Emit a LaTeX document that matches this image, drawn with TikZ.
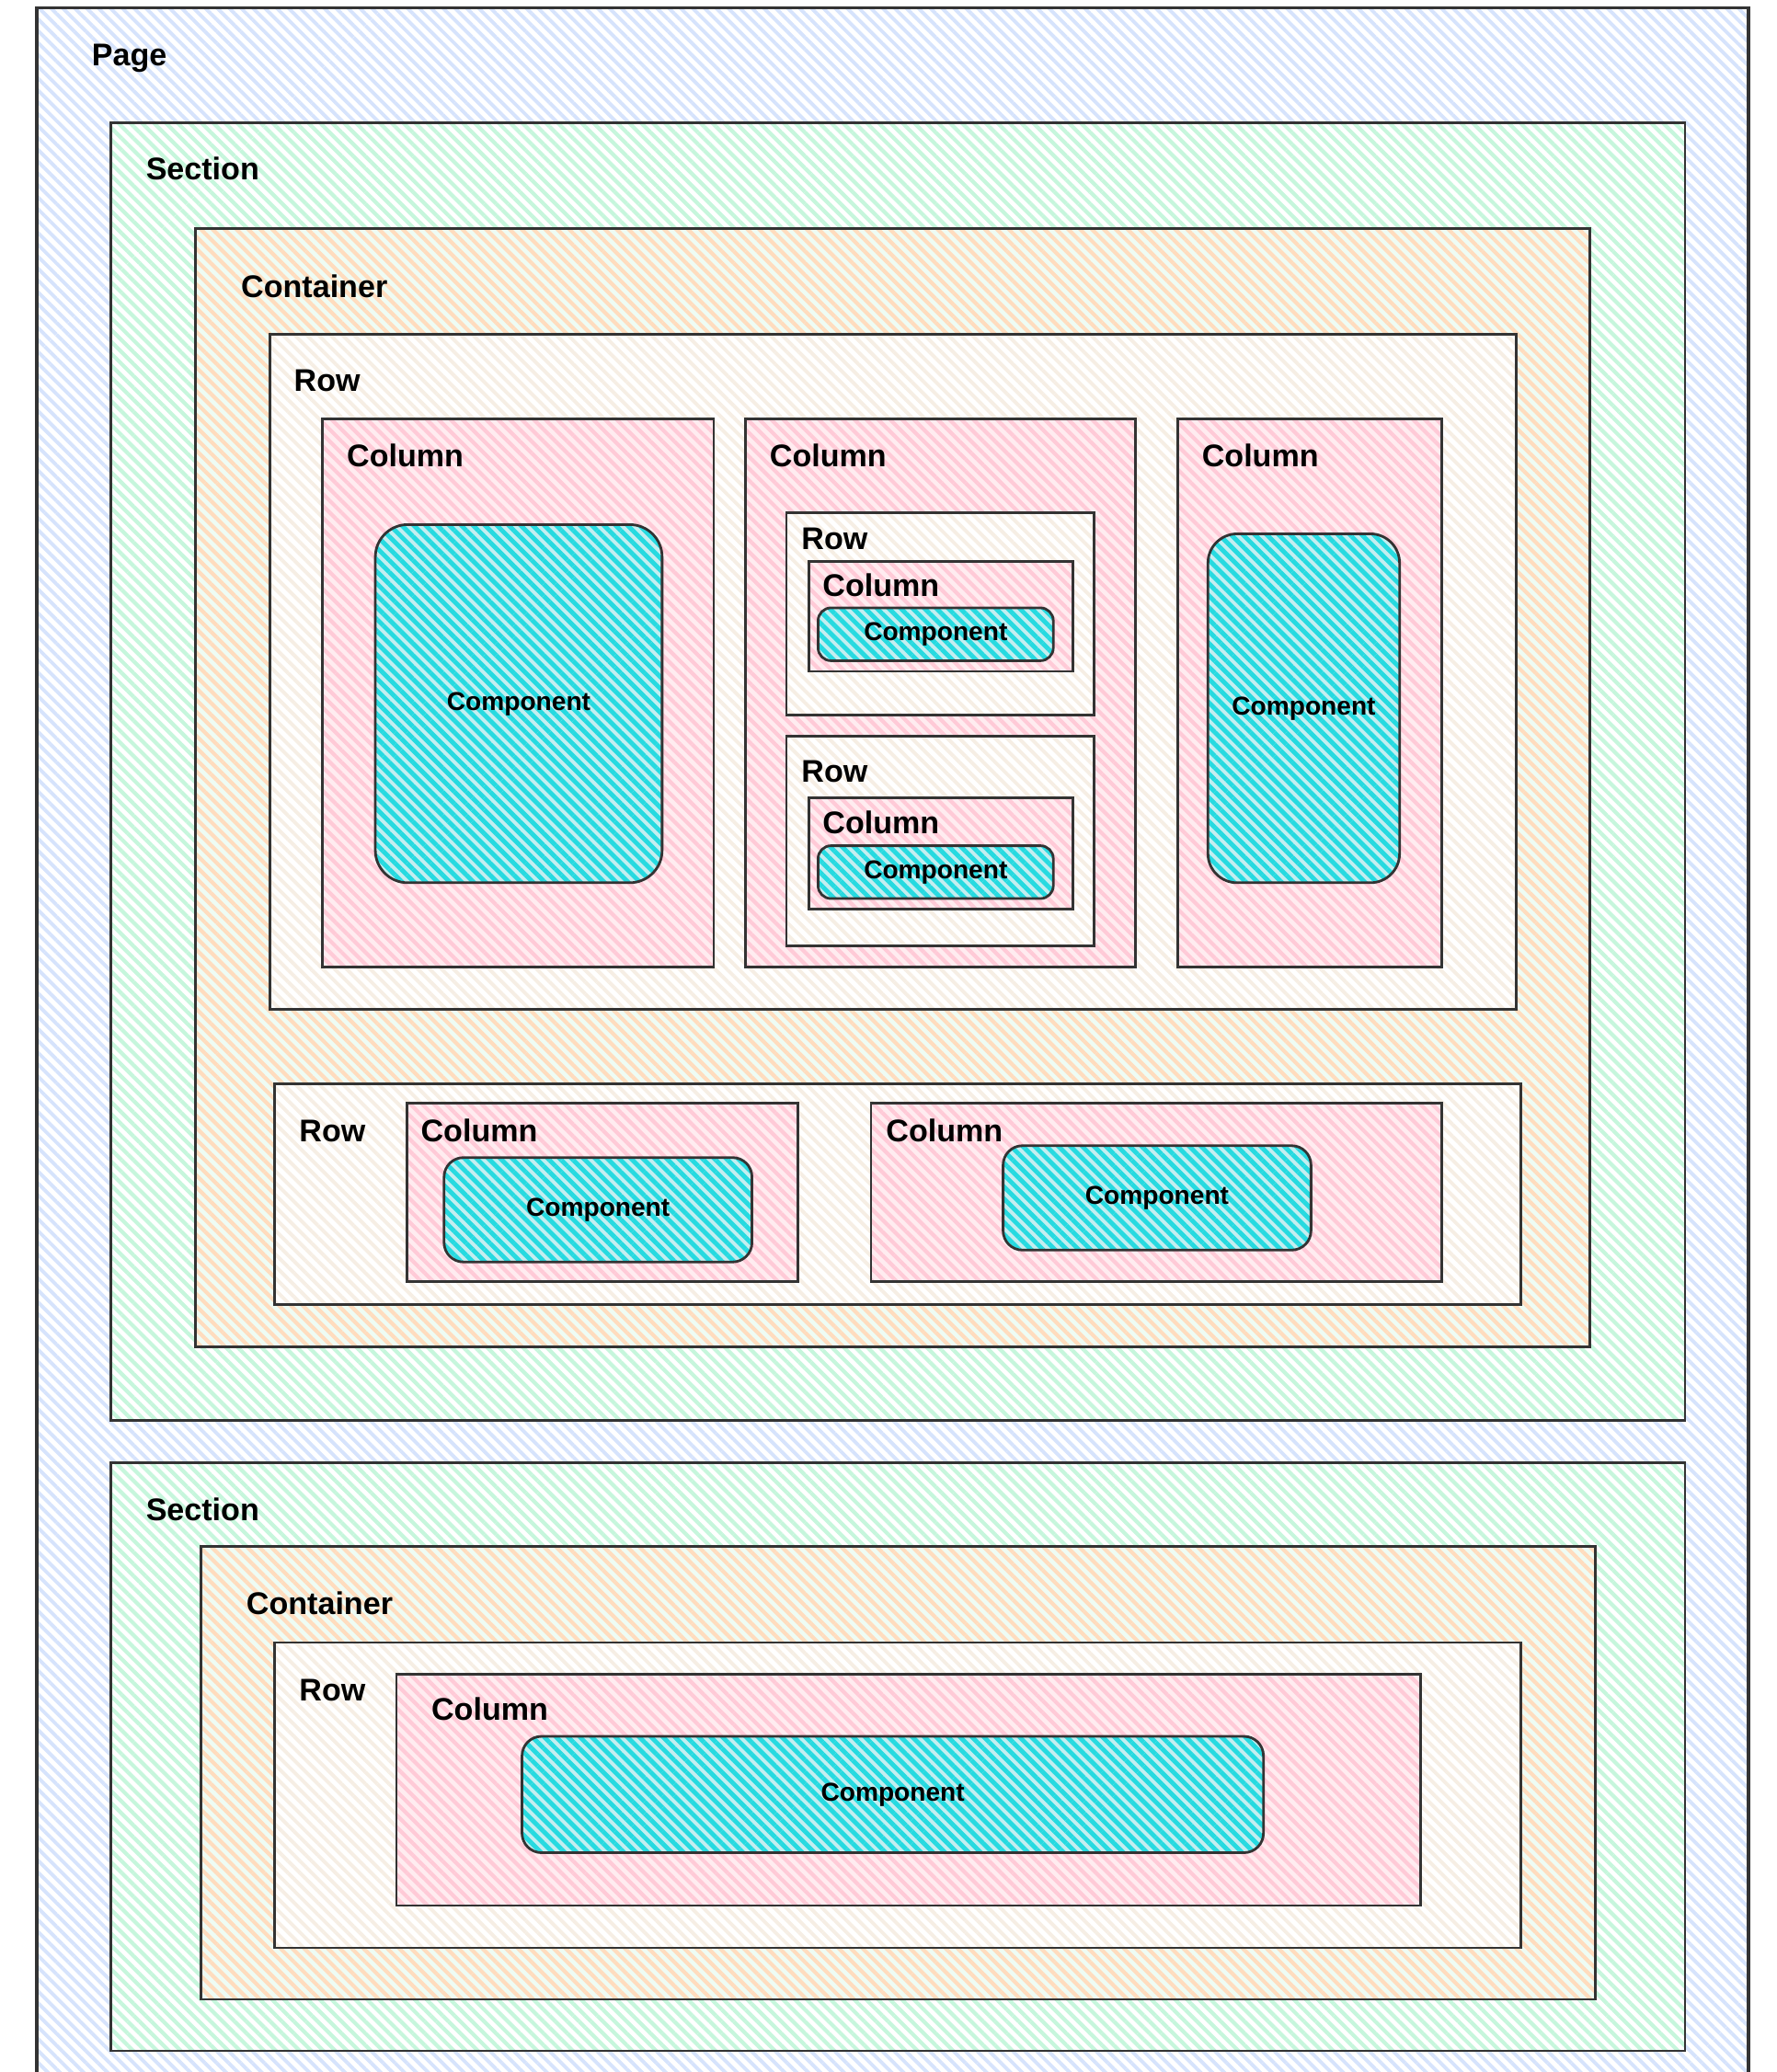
\documentclass[tikz,border=0pt]{standalone}
\usepackage{fontspec}
\setmainfont{Liberation Sans}
\usetikzlibrary{patterns.meta}
\usetikzlibrary{fit}

\definecolor{pageblue}{RGB}{214,227,252}
\definecolor{secgreen}{RGB}{198,246,220}
\definecolor{contpeach}{RGB}{255,220,190}
\definecolor{rowline}{RGB}{246,238,228}
\definecolor{colpink}{RGB}{255,202,215}
\definecolor{colpale}{RGB}{255,236,240}
\definecolor{compcyan}{RGB}{38,218,224}
\definecolor{comppale}{RGB}{196,238,240}

\begin{document}
\begin{tikzpicture}[x=0.014368cm, y=-0.014368cm]
\tikzstyle{box} = [draw=black!80, line width=0.8pt, inner sep=0pt]
\tikzstyle{pagebox} = [box, line width=1pt, preaction={fill=white},
pattern={Lines[angle=-45,distance=2.6pt,line width=1.1pt]}, pattern color=pageblue]
\tikzstyle{secbox} = [box, preaction={fill=white},
pattern={Lines[angle=-45,distance=2.6pt,line width=1.2pt]}, pattern color=secgreen]
\tikzstyle{contbox} = [box, preaction={fill=secgreen!30},
pattern={Lines[angle=-45,distance=2.6pt,line width=1.2pt]}, pattern color=contpeach]
\tikzstyle{rowbox} = [box, preaction={fill=white},
pattern={Lines[angle=-45,distance=2.6pt,line width=1.1pt]}, pattern color=rowline]
\tikzstyle{colbox} = [box, preaction={fill=colpale},
pattern={Lines[angle=-45,distance=2.6pt,line width=1.2pt]}, pattern color=colpink]
\tikzstyle{compbox} = [box, rounded corners=4pt, preaction={fill=comppale},
pattern={Lines[angle=-45,distance=2.6pt,line width=1.4pt]}, pattern color=compcyan]
\tikzstyle{tag} = [inner sep=0pt, anchor=base west, font=\bfseries\fontsize{9.7}{11}\selectfont]
\tikzstyle{comptag} = [inner sep=0pt, font=\bfseries\fontsize{8}{9}\selectfont]

\useasboundingbox (0,0) rectangle (1344,1568);
\clip (0,0) rectangle (1344,1568);

% page
\node [pagebox, fit={(28,6) (1323,1600)}] (page) {};
\node [tag] (pageT) at (69,50) {Page};

% section 1
\node [secbox, fit={(84,93) (1275,1075)}] (sec1) {};
\node [tag] (sec1T) at (110,136) {Section};
\node [contbox, fit={(148,173) (1203,1019)}] (cont1) {};
\node [tag] (cont1T) at (182,225) {Container};

% upper row
\node [rowbox, fit={(204,253) (1147,764)}] (rowA) {};
\node [tag] (rowAT) at (222,296) {Row};
\node [colbox, fit={(244,317) (540,732)}] (colA1) {};
\node [tag] (colA1T) at (262,353) {Column};
\node [compbox, rounded corners=10pt, fit={(284,397) (501,668)}] (compA1) {};
\node [comptag] (compA1T) at (compA1.center) {Component};
\node [colbox, fit={(564,317) (859,732)}] (colA2) {};
\node [tag] (colA2T) at (582,353) {Column};
\node [rowbox, fit={(595,388) (828,541)}] (rowA2a) {};
\node [tag] (rowA2aT) at (606,416) {Row};
\node [colbox, fit={(612,425) (812,508)}] (colA2a) {};
\node [tag] (colA2aT) at (622,451) {Column};
\node [compbox, fit={(619,460) (797,500)}] (compA2a) {};
\node [comptag] (compA2aT) at (compA2a.center) {Component};
\node [rowbox, fit={(595,557) (828,716)}] (rowA2b) {};
\node [tag] (rowA2bT) at (606,592) {Row};
\node [colbox, fit={(612,604) (812,688)}] (colA2b) {};
\node [tag] (colA2bT) at (622,631) {Column};
\node [compbox, fit={(619,640) (797,680)}] (compA2b) {};
\node [comptag] (compA2bT) at (compA2b.center) {Component};
\node [colbox, fit={(891,317) (1091,732)}] (colA3) {};
\node [tag] (colA3T) at (909,353) {Column};
\node [compbox, rounded corners=9pt, fit={(914,404) (1059,668)}] (compA3) {};
\node [comptag] (compA3T) at (compA3.center) {Component};

% lower row
\node [rowbox, fit={(208,820) (1151,987)}] (rowB) {};
\node [tag] (rowBT) at (226,864) {Row};
\node [colbox, fit={(308,835) (604,970)}] (colB1) {};
\node [tag] (colB1T) at (318,864) {Column};
\node [compbox, rounded corners=6pt, fit={(336,876) (569,955)}] (compB1) {};
\node [comptag] (compB1T) at (compB1.center) {Component};
\node [colbox, fit={(659,835) (1091,970)}] (colB2) {};
\node [tag] (colB2T) at (670,864) {Column};
\node [compbox, rounded corners=6pt, fit={(759,867) (992,946)}] (compB2) {};
\node [comptag] (compB2T) at (compB2.center) {Component};

% section 2
\node [secbox, fit={(84,1107) (1275,1552)}] (sec2) {};
\node [tag] (sec2T) at (110,1151) {Section};
\node [contbox, fit={(152,1170) (1207,1513)}] (cont2) {};
\node [tag] (cont2T) at (186,1222) {Container};
\node [rowbox, fit={(208,1243) (1151,1474)}] (rowC) {};
\node [tag] (rowCT) at (226,1287) {Row};
\node [colbox, fit={(300,1267) (1075,1442)}] (colC) {};
\node [tag] (colCT) at (326,1302) {Column};
\node [compbox, rounded corners=6pt, fit={(395,1314) (956,1402)}] (compC) {};
\node [comptag] (compCT) at (compC.center) {Component};
\end{tikzpicture}
\end{document}
